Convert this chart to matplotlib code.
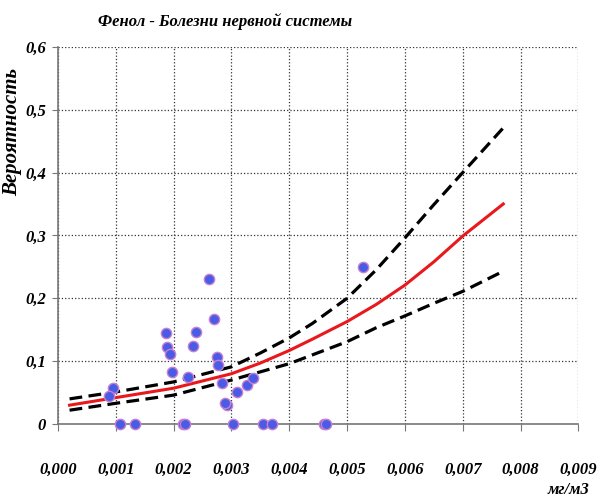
import numpy as np
import matplotlib.pyplot as plt

# observed points (concentration mg/m3, probability)
obs_x = [0.00528, 0.00262, 0.00270, 0.00187, 0.00189, 0.00193, 0.00197,
         0.00239, 0.00234, 0.00275, 0.00277, 0.00224, 0.00283, 0.00309,
         0.00326, 0.00338, 0.00292, 0.00289, 0.00095, 0.00089,
         0.00107, 0.00133, 0.00217, 0.00220, 0.00302, 0.00354, 0.00370,
         0.00460, 0.00464]
obs_y = [0.249, 0.231, 0.167, 0.145, 0.123, 0.112, 0.083,
         0.146, 0.124, 0.107, 0.094, 0.075, 0.065, 0.051,
         0.062, 0.073, 0.030, 0.033, 0.057, 0.044,
         0.0, 0.0, 0.0, 0.0, 0.0, 0.0, 0.0,
         0.0, 0.0]

# fitted curve and confidence band
curve_x = [0.0002, 0.001, 0.002, 0.003, 0.0035, 0.004, 0.0044, 0.005,
           0.0055, 0.006, 0.0065, 0.007, 0.0077]
fit_y = [0.030, 0.042, 0.057, 0.080, 0.097, 0.117, 0.135, 0.163,
         0.190, 0.221, 0.258, 0.299, 0.350]
upper_y = [0.040, 0.051, 0.067, 0.091, 0.113, 0.137, 0.160, 0.200,
           0.245, 0.296, 0.349, 0.400, 0.471]
lower_y = [0.022, 0.033, 0.046, 0.070, 0.083, 0.096, 0.110, 0.131,
           0.153, 0.172, 0.192, 0.211, 0.243]

x_ticks = [0.000, 0.001, 0.002, 0.003, 0.004, 0.005, 0.006, 0.007, 0.008, 0.009]
x_labels = ['0,000', '0,001', '0,002', '0,003', '0,004', '0,005', '0,006',
            '0,007', '0,008', '0,009']
y_ticks = [0.0, 0.1, 0.2, 0.3, 0.4, 0.5, 0.6]
y_labels = ['0', '0,1', '0,2', '0,3', '0,4', '0,5', '0,6']

font = dict(family='Liberation Serif', style='italic', weight='bold')

fig = plt.figure(figsize=(6.13, 5.03), dpi=100)
ax = fig.add_axes([0.0946, 0.157, 0.849, 0.75])

ax.plot(curve_x, upper_y, color='black', lw=2.3, dashes=(4, 2), zorder=3)
ax.plot(curve_x, lower_y, color='black', lw=2.3, dashes=(4, 2), zorder=3)
ax.plot(curve_x, fit_y, color='#e8181c', lw=2.2, zorder=4)
ax.scatter(obs_x, obs_y, s=55, color='#4a5ce6', edgecolors='#c77fd0',
           linewidths=1.0, zorder=5, clip_on=False)

ax.set_xlim(0, 0.009)
ax.set_ylim(0, 0.6)
ax.set_xticks(x_ticks)
ax.set_xticklabels(x_labels, **font, fontsize=12)
ax.set_yticks(y_ticks)
ax.set_yticklabels(y_labels, **font, fontsize=12)
ax.tick_params(axis='x', length=5, color='#777777', pad=22)
ax.tick_params(axis='y', length=4, color='#777777', pad=4.5)

ax.grid(True, color='#333333', linestyle=':', linewidth=0.9)
ax.set_axisbelow(True)
for side in ['top', 'right']:
    ax.spines[side].set_visible(False)
for side in ['left', 'bottom']:
    ax.spines[side].set_color('#777777')
    ax.spines[side].set_linewidth(1.2)

fig.text(0.367, 0.958, 'Фенол - Болезни нервной системы', ha='center',
         va='center', fontsize=12, **font)
fig.text(0.020, 0.738, 'Вероятность', rotation=90, ha='center',
         va='center', fontsize=15, **font)
fig.text(0.962, 0.026, 'мг/м3', ha='right', va='center', fontsize=12, **font)

fig.savefig('out.png', dpi=100)
